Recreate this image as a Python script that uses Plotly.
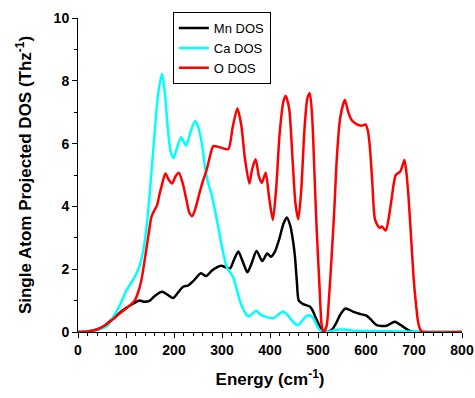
import plotly.graph_objects as go

# Mn DOS
mn_x = [0, 20, 42, 55, 69, 80, 90, 100, 110, 118, 128, 139, 149, 160, 175, 187, 198, 208, 219, 229, 240, 256, 267, 280, 298, 308, 317, 325, 334, 343, 353, 362, 372, 384, 394, 402, 410, 420, 428, 435, 442, 448, 452, 456, 460, 469, 483, 490, 494, 500, 508, 518, 525, 532, 540, 546, 557, 573, 586, 601, 610, 622, 643, 660, 677, 688, 695, 710, 800]
mn_y = [0, 0.02, 0.1, 0.2, 0.38, 0.52, 0.65, 0.76, 0.86, 0.93, 1.0, 0.96, 0.99, 1.15, 1.28, 1.18, 1.08, 1.25, 1.44, 1.48, 1.62, 1.87, 1.78, 1.97, 2.11, 2.06, 2.03, 2.3, 2.56, 2.25, 1.9, 2.2, 2.58, 2.26, 2.5, 2.4, 2.55, 3.0, 3.45, 3.65, 3.4, 2.9, 2.4, 1.6, 1.0, 0.89, 0.81, 0.65, 0.49, 0.3, 0.06, 0, 0.04, 0.13, 0.35, 0.54, 0.75, 0.65, 0.58, 0.52, 0.4, 0.22, 0.2, 0.33, 0.17, 0.06, 0.01, 0, 0]

# Ca DOS
ca_x = [0, 20, 40, 60, 70, 80, 90, 100, 110, 118, 128, 136, 144, 152, 160, 167, 175, 181, 187, 193, 199, 207, 215, 225, 235, 244, 250, 258, 265, 272, 278, 285, 292, 300, 310, 323, 330, 337, 345, 354, 363, 372, 380, 390, 407, 417, 427, 436, 445, 452, 459, 468, 476, 483, 490, 497, 504, 512, 525, 540, 555, 570, 600, 650, 700, 715, 800]
ca_y = [0, 0.02, 0.07, 0.18, 0.4, 0.65, 0.95, 1.3, 1.55, 1.75, 2.1, 2.6, 3.5, 4.9, 6.4, 7.6, 8.22, 7.6, 6.5, 5.75, 5.54, 5.9, 6.2, 5.93, 6.4, 6.72, 6.55, 6.0, 5.2, 4.7, 4.4, 3.9, 3.35, 2.7, 2.07, 1.75, 1.4, 1.0, 0.7, 0.5, 0.58, 0.68, 0.55, 0.49, 0.44, 0.55, 0.65, 0.55, 0.38, 0.26, 0.22, 0.38, 0.51, 0.53, 0.44, 0.22, 0.06, 0, 0.02, 0.07, 0.08, 0.05, 0.03, 0.02, 0.01, 0, 0]

# O DOS
o_x = [0, 20, 40, 55, 69, 80, 90, 100, 110, 118, 125, 132, 137, 142, 147, 153, 160, 165, 170, 174, 182, 189, 196, 203, 210, 218, 226, 232, 238, 245, 253, 260, 268, 275, 282, 296, 313, 322, 332, 340, 348, 357, 363, 370, 377, 383, 391, 398, 406, 413, 420, 428, 433, 440, 447, 453, 459, 465, 472, 478, 483, 488, 493, 497, 503, 508, 512, 518, 523, 528, 534, 539, 546, 556, 563, 570, 580, 591, 599, 604, 608, 613, 619, 628, 633, 641, 647, 653, 662, 671, 676, 680, 684, 688, 694, 699, 704, 709, 714, 719, 800]
o_y = [0, 0.02, 0.08, 0.2, 0.36, 0.5, 0.63, 0.75, 0.87, 1.0, 1.25, 1.65, 2.1, 2.6, 3.1, 3.67, 3.9, 4.05, 4.4, 4.63, 5.05, 4.85, 4.73, 4.95, 5.07, 4.75, 4.2, 3.8, 3.69, 3.95, 4.42, 4.8, 5.16, 5.6, 5.92, 5.88, 5.82, 6.5, 7.12, 6.6, 5.5, 4.73, 5.2, 5.5, 4.95, 4.75, 5.07, 4.3, 3.57, 4.6, 6.3, 7.35, 7.52, 7.1, 5.5, 4.1, 3.59, 4.5, 6.5, 7.45, 7.6, 6.8, 4.9, 3.35, 1.5, 0.17, 0, 0.2, 1.1, 2.3, 3.9, 5.48, 6.8, 7.39, 7.0, 6.75, 6.62, 6.57, 6.61, 6.4, 5.9, 4.8, 3.57, 3.32, 3.36, 3.23, 3.6, 4.2, 5.0, 5.1, 5.3, 5.48, 5.1, 4.42, 3.0, 1.76, 0.9, 0.28, 0.05, 0, 0]

x_ticks = [0, 100, 200, 300, 400, 500, 600, 700, 800]
y_ticks = [0, 2, 4, 6, 8, 10]

fig = go.Figure()
series = [("Mn DOS", mn_x, mn_y, "#000000"),
          ("Ca DOS", ca_x, ca_y, "#00FFFF"),
          ("O DOS", o_x, o_y, "#FF0000")]
for name, xs, ys, col in series:
    fig.add_trace(go.Scatter(x=xs, y=ys, mode="lines", name=name,
                             line=dict(color=col, width=2.5, shape="spline", smoothing=0.7)))

FAM = "Arial, Liberation Sans, sans-serif"
axfont = dict(family=FAM, size=14, color="black", weight="bold")
fig.update_layout(
    width=475, height=398,
    margin=dict(l=78, r=13, t=18, b=66),
    paper_bgcolor="white", plot_bgcolor="white",
    font=dict(family=FAM, color="black"),
    showlegend=True,
    legend=dict(x=0.247, y=1.019, xanchor="left", yanchor="top",
                bgcolor="white", bordercolor="black", borderwidth=1,
                font=dict(size=13, family=FAM, color="black"),
                tracegroupgap=0),
    xaxis=dict(range=[0, 800], tickvals=x_ticks, ticks="outside", ticklen=5, tickwidth=1,
               tickcolor="black", showline=True, linecolor="black", linewidth=1,
               showgrid=False, zeroline=False, tickfont=axfont, automargin=False,
               minor=dict(dtick=20, ticks="outside", ticklen=3, tickcolor="black", showgrid=False),
               title=dict(text="Energy (cm<sup>-1</sup>)", standoff=16,
                          font=dict(family=FAM, size=17, color="black", weight="bold"))),
    yaxis=dict(range=[0, 10], tickvals=y_ticks, ticks="outside", ticklen=5, tickwidth=1,
               tickcolor="black", showline=True, linecolor="black", linewidth=1,
               showgrid=False, zeroline=False, tickfont=axfont, automargin=False,
               minor=dict(dtick=1, ticks="outside", ticklen=3, tickcolor="black", showgrid=False),
               title=dict(text="Single Atom Projected DOS (Thz<sup>-1</sup>)", standoff=17,
                          font=dict(family=FAM, size=17, color="black", weight="bold"))),
)

fig.write_html("out.html")
